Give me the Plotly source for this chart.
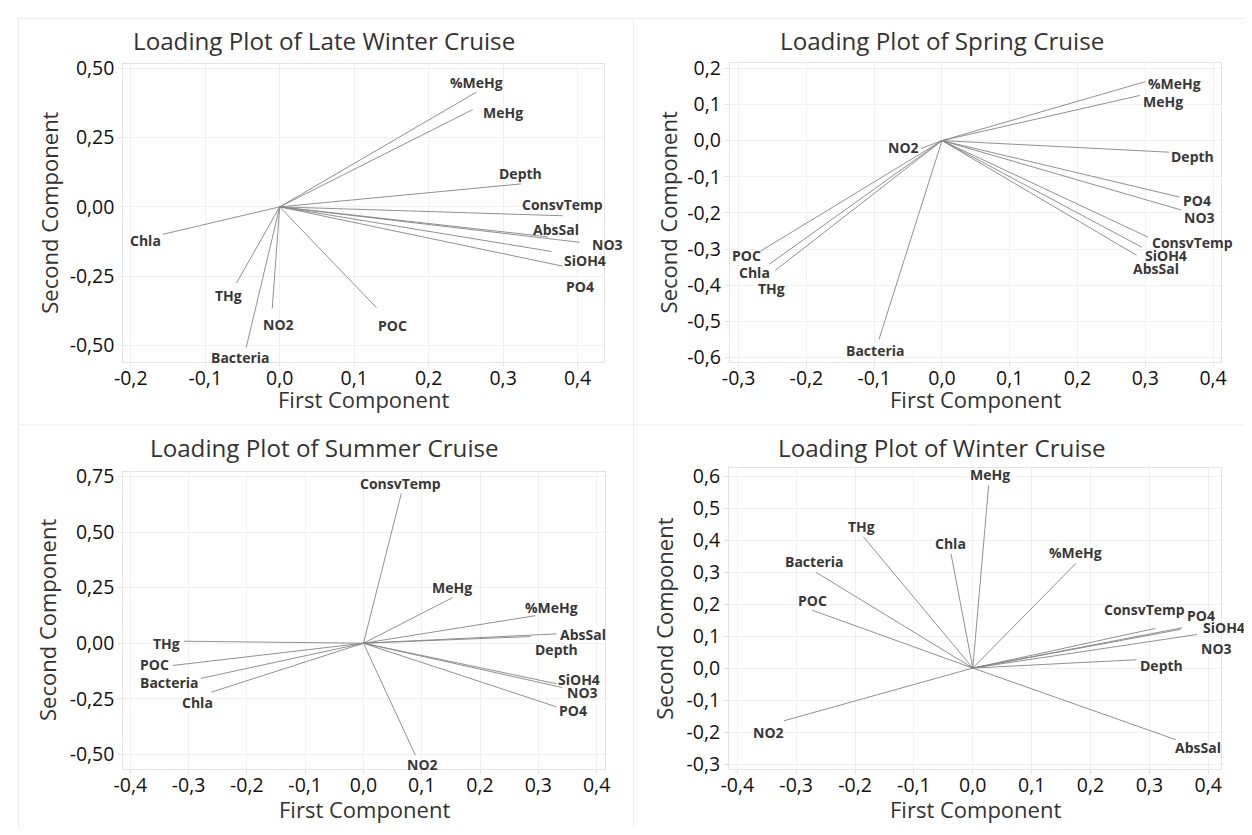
import plotly.graph_objects as go

W, H = 1252, 835          # target picture
PAGE = 8                  # browser body margin around the figure
FW, FH = W - 2 * PAGE, H - 2 * PAGE

variables = ["%MeHg", "MeHg", "THg", "Chla", "Bacteria", "POC", "NO2",
             "NO3", "PO4", "SiOH4", "AbsSal", "ConsvTemp", "Depth"]

# loadings on first / second component, same order as `variables`
late_winter_pc1 = [0.264, 0.259, -0.058, -0.157, -0.045, 0.130, -0.010,
                   0.403, 0.380, 0.365, 0.360, 0.380, 0.324]
late_winter_pc2 = [0.414, 0.351, -0.275, -0.099, -0.508, -0.364, -0.367,
                   -0.128, -0.214, -0.161, -0.108, -0.032, 0.083]

spring_pc1 = [0.300, 0.292, -0.246, -0.255, -0.093, -0.268, -0.031,
              0.353, 0.350, 0.295, 0.287, 0.304, 0.335]
spring_pc2 = [0.163, 0.125, -0.359, -0.342, -0.550, -0.306, -0.022,
              -0.192, -0.156, -0.295, -0.317, -0.267, -0.032]

summer_pc1 = [0.295, 0.153, -0.308, -0.261, -0.279, -0.327, 0.089,
              0.341, 0.331, 0.331, 0.331, 0.065, 0.287]
summer_pc2 = [0.124, 0.205, 0.009, -0.220, -0.158, -0.100, -0.503,
              -0.199, -0.286, -0.182, 0.042, 0.674, 0.030]

winter_pc1 = [0.175, 0.027, -0.186, -0.037, -0.266, -0.273, -0.321,
              0.353, 0.356, 0.381, 0.345, 0.310, 0.278]
winter_pc2 = [0.327, 0.572, 0.411, 0.357, 0.299, 0.181, -0.165,
              0.121, 0.126, 0.105, -0.224, 0.124, 0.026]

# axis tick values
x_ticks_late_winter = [-0.2, -0.1, 0.0, 0.1, 0.2, 0.3, 0.4]
y_ticks_late_winter = [-0.50, -0.25, 0.00, 0.25, 0.50]
x_ticks_spring = [-0.3, -0.2, -0.1, 0.0, 0.1, 0.2, 0.3, 0.4]
y_ticks_spring = [-0.6, -0.5, -0.4, -0.3, -0.2, -0.1, 0.0, 0.1, 0.2]
x_ticks_summer = [-0.4, -0.3, -0.2, -0.1, 0.0, 0.1, 0.2, 0.3, 0.4]
y_ticks_summer = [-0.50, -0.25, 0.00, 0.25, 0.50, 0.75]
x_ticks_winter = [-0.4, -0.3, -0.2, -0.1, 0.0, 0.1, 0.2, 0.3, 0.4]
y_ticks_winter = [-0.3, -0.2, -0.1, 0.0, 0.1, 0.2, 0.3, 0.4, 0.5, 0.6]

# label placement: pixel offset of the label centre from the vector tip (dx right, dy down)
shift_late_winter = [(0, -10), (30, 3), (-8, 12), (-17, 6), (-6, 10), (16, 18), (6, 16),
                     (28, 2), (17, 20), (33, 9), (8, -7), (0, -11), (0, -10)]
shift_spring = [(29, 2), (23, 6), (-4, 18), (-15, 8), (-3, 11), (-14, 4), (-17, -1),
                (18, 7), (18, 3), (24, 8), (19, 13), (44, 5), (23, 4)]
shift_summer = [(16, -8), (-1, -10), (-17, 2), (-14, 10), (-31, 4), (-18, -1), (7, 9),
                (20, 5), (17, 4), (23, -4), (27, 1), (-1, -10), (26, 13)]
shift_winter = [(0, -11), (1, -11), (-2, -10), (-1, -10), (-2, -11), (0, -10), (-15, 12),
                (36, 19), (19, -12), (27, -7), (22, 8), (-11, -19), (25, 6)]


def fmt(v, nd):
    return f"{v:.{nd}f}".replace(".", ",")


def px(x):
    return (x - PAGE) / FW


def py(y):
    return 1 - (y - PAGE) / FH


# pixel boxes: plot left, right, top, bottom; title centre x/y; y-title x; x-title y
panels = [
    dict(title="Loading Plot of Late Winter Cruise", pc1=late_winter_pc1, pc2=late_winter_pc2,
         shifts=shift_late_winter, xt=x_ticks_late_winter, yt=y_ticks_late_winter, ynd=2,
         xr=[-0.210, 0.436], yr=[-0.561, 0.516], box=(114.6, 601.6, 55, 360),
         tx=318, ty=31, ytx=40, xty=398),
    dict(title="Loading Plot of Spring Cruise", pc1=spring_pc1, pc2=spring_pc2,
         shifts=shift_spring, xt=x_ticks_spring, yt=y_ticks_spring, ynd=1,
         xr=[-0.313, 0.412], yr=[-0.613, 0.216], box=(728.6, 1226, 53.5, 360),
         tx=943, ty=31, ytx=666, xty=398),
    dict(title="Loading Plot of Summer Cruise", pc1=summer_pc1, pc2=summer_pc2,
         shifts=shift_summer, xt=x_ticks_summer, yt=y_ticks_summer, ynd=2,
         xr=[-0.412, 0.414], yr=[-0.566, 0.772], box=(114.6, 602, 471.7, 776),
         tx=318, ty=447, ytx=38, xty=817),
    dict(title="Loading Plot of Winter Cruise", pc1=winter_pc1, pc2=winter_pc2,
         shifts=shift_winter, xt=x_ticks_winter, yt=y_ticks_winter, ynd=1,
         xr=[-0.414, 0.422], yr=[-0.316, 0.625], box=(727.8, 1226, 468.3, 776),
         tx=943, ty=447, ytx=662, xty=817),
]

FONT = "Open Sans"
TXT = "#333333"

fig = go.Figure()
annotations = []
layout = {}

for i, p in enumerate(panels, start=1):
    sx = "" if i == 1 else str(i)
    xa, ya = "x" + sx, "y" + sx

    # vectors from origin to each loading
    xs, ys = [], []
    for a, b in zip(p["pc1"], p["pc2"]):
        xs += [0, a, None]
        ys += [0, b, None]
    fig.add_trace(go.Scatter(x=xs, y=ys, mode="lines", xaxis=xa, yaxis=ya,
                             line=dict(color="#858585", width=0.9),
                             hoverinfo="skip", showlegend=False))

    for name, a, b, (dx, dy) in zip(variables, p["pc1"], p["pc2"], p["shifts"]):
        annotations.append(dict(x=a, y=b, xref=xa, yref=ya, text=name, showarrow=False,
                                xanchor="center", yanchor="middle", xshift=dx, yshift=-dy,
                                font=dict(family=FONT, size=14, color="#383838",
                                          weight="bold")))

    l, r, t, btm = p["box"]
    axis_common = dict(showgrid=True, gridcolor="#f1f1f1", gridwidth=1, zeroline=False,
                       showline=True, linecolor="#e4e4e4", linewidth=1, mirror=True,
                       ticks="outside", ticklen=4, tickcolor="#e4e4e4",
                       tickfont=dict(family=FONT, size=19.5, color="#111111"))
    layout["xaxis" + sx] = dict(axis_common, domain=[px(l), px(r)], range=p["xr"],
                                anchor=ya, tickvals=p["xt"], ticklabelstandoff=-6,
                                ticktext=[fmt(v, 1) for v in p["xt"]])
    layout["yaxis" + sx] = dict(axis_common, domain=[py(btm), py(t)], range=p["yr"],
                                anchor=xa, tickvals=p["yt"],
                                ticktext=[fmt(v, p["ynd"]) for v in p["yt"]])

    annotations.append(dict(x=px(p["tx"]), y=py(p["ty"]), xref="paper", yref="paper",
                            text=p["title"], showarrow=False, xanchor="center",
                            yanchor="middle", font=dict(family=FONT, size=24.2, color=TXT)))
    annotations.append(dict(x=px((l + r) / 2), y=py(p["xty"]), xref="paper", yref="paper",
                            text="First Component", showarrow=False, xanchor="center",
                            yanchor="middle", font=dict(family=FONT, size=22, color=TXT)))
    annotations.append(dict(x=px(p["ytx"]), y=py((t + btm) / 2), xref="paper",
                            yref="paper", text="Second Component", showarrow=False,
                            textangle=-90, xanchor="center", yanchor="middle",
                            font=dict(family=FONT, size=22, color=TXT)))

# faint frames around the four panels
frame = dict(type="line", xref="paper", yref="paper", line=dict(color="#ececec", width=1))
shapes = [
    dict(frame, x0=px(8), x1=px(1251), y0=py(8.5), y1=py(8.5)),
    dict(frame, x0=px(8), x1=px(1251), y0=py(424), y1=py(424)),
    dict(frame, x0=px(8.5), x1=px(8.5), y0=py(8), y1=py(835)),
    dict(frame, x0=px(631), x1=px(631), y0=py(8), y1=py(835)),
]

fig.update_layout(width=FW, height=FH, autosize=False, margin=dict(l=0, r=0, t=0, b=0),
                  paper_bgcolor="white", plot_bgcolor="white", showlegend=False,
                  annotations=annotations, shapes=shapes, **layout)

fig.write_html("out.html")
